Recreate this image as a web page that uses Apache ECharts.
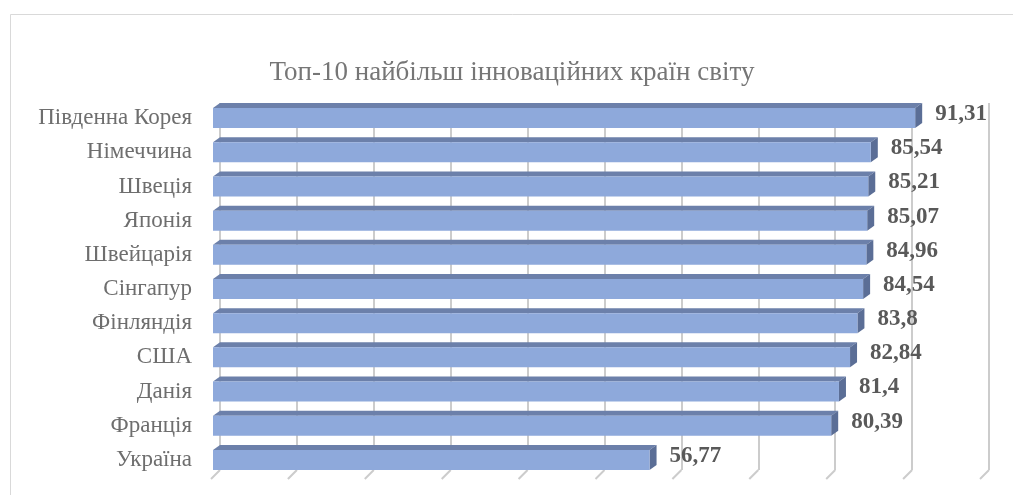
<!DOCTYPE html>
<html>
<head>
<meta charset="utf-8">
<script src="https://cdn.jsdelivr.net/npm/echarts@6/dist/echarts.min.js"></script>
<style>html,body{margin:0;padding:0;background:#fff}#c{width:1013px;height:495px}</style>
</head>
<body>
<div id="c"></div>
<script>
var titleText = 'Топ-10 найбільш інноваційних країн світу';
var categories = ['Південна Корея','Німеччина','Швеція','Японія','Швейцарія','Сінгапур','Фінляндія','США','Данія','Франція','Україна'];
var values = [91.31, 85.54, 85.21, 85.07, 84.96, 84.54, 83.8, 82.84, 81.4, 80.39, 56.77];
var axisMin = 0, axisMax = 100, axisStep = 10;
var tickValues = [0,10,20,30,40,50,60,70,80,90,100];

var DX = 7, DY = 5;
var serif = '"Liberation Serif","Times New Roman",serif';

var chart = echarts.init(document.getElementById('c'), null, {renderer:'canvas'});

function fmt(v){ return String(v).replace('.', ','); }

var option = {
  animation: false,
  backgroundColor: '#fff',
  title: {
    text: titleText, left: 507, top: 54, textAlign: 'center',
    textStyle: {fontFamily: serif, fontSize: 27, fontWeight: 'normal', color: '#767676'}
  },
  graphic: [{
    type: 'rect', left: 8, top: 12, shape: {width: 1100, height: 600},
    style: {fill: 'none', stroke: '#D9D9D9', lineWidth: 1}, z: -1
  }],
  grid: [
    {left: 220, right: 24, top: 103, bottom: 25},
    {left: 213, right: 31, top: 101, bottom: 18}
  ],
  xAxis: [
    {gridIndex: 0, type: 'value', min: axisMin, max: axisMax, interval: axisStep,
     axisLabel: {show: false}, axisLine: {show: false}, axisTick: {show: false},
     splitLine: {show: true, lineStyle: {color: '#CCCCCC', width: 2}}},
    {gridIndex: 1, type: 'value', min: axisMin, max: axisMax, interval: axisStep,
     axisLabel: {show: false}, axisLine: {show: false}, axisTick: {show: false},
     splitLine: {show: false}}
  ],
  yAxis: [
    {gridIndex: 0, type: 'category', data: categories, inverse: true,
     axisLabel: {show: false}, axisLine: {show: false}, axisTick: {show: false}},
    {gridIndex: 1, type: 'category', data: categories, inverse: true,
     axisLine: {show: false}, axisTick: {show: false},
     axisLabel: {margin: 21, fontFamily: serif, fontSize: 23, color: '#6E6E6E'}}
  ],
  series: [
    {
      type: 'custom', xAxisIndex: 1, yAxisIndex: 1, z: 1,
      data: tickValues.map(function(t){ return [t, categories.length - 1]; }),
      renderItem: function(params, api){
        var p = api.coord([api.value(0), api.value(1)]);
        var band = api.size([0, 1])[1];
        var yb = p[1] + band / 2;
        return {type: 'line', shape: {x1: p[0] + DX, y1: yb - DY - 2, x2: p[0] - 2, y2: yb + 2},
                style: {stroke: '#CCCCCC', lineWidth: 2}};
      }
    },
    {
      type: 'custom', xAxisIndex: 1, yAxisIndex: 1, z: 2,
      data: values.map(function(v, i){ return [v, i]; }),
      renderItem: function(params, api){
        var v = api.value(0), i = api.value(1);
        var p0 = api.coord([0, i]);
        var p1 = api.coord([v, i]);
        var h = 20;
        var yT = p0[1] - h / 2, yB = p0[1] + h / 2;
        var x0 = p0[0], x1 = p1[0];
        return {type: 'group', children: [
          {type: 'polygon', shape: {points: [[x0, yT], [x0 + DX, yT - DY], [x1 + DX, yT - DY], [x1, yT]]},
           style: {fill: '#6C80AA'}},
          {type: 'polygon', shape: {points: [[x1, yT], [x1 + DX, yT - DY], [x1 + DX, yB - DY], [x1, yB]]},
           style: {fill: '#5B6E96'}},
          {type: 'rect', shape: {x: x0, y: yT, width: x1 - x0, height: h},
           style: {fill: '#8EA9DB'}},
          {type: 'text', x: x1 + 20, y: p0[1] - 4,
           style: {text: fmt(v), fontFamily: serif, fontSize: 23, fontWeight: 'bold', fill: '#595959',
                   align: 'left', verticalAlign: 'middle'}}
        ]};
      }
    }
  ]
};
chart.setOption(option);
</script>
</body>
</html>
